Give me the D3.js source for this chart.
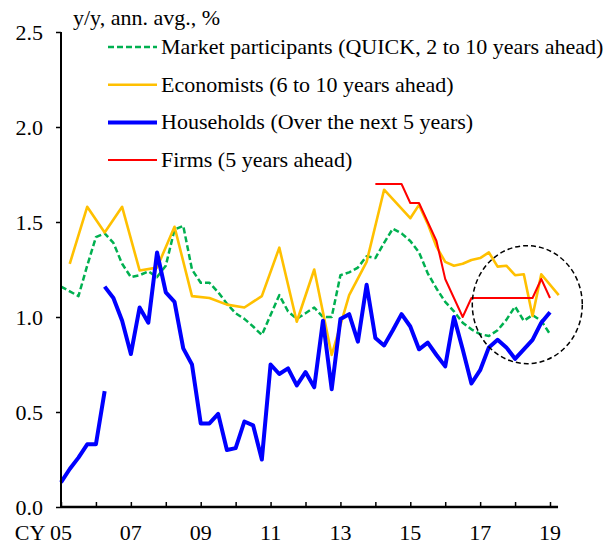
<!DOCTYPE html>
<html>
<head>
<meta charset="utf-8">
<script src="https://cdn.jsdelivr.net/npm/d3@7"></script>
<style>
  html, body { margin: 0; padding: 0; background: #fff; }
  svg { display: block; }
  svg text { font-family: "Liberation Serif", "Times New Roman", serif; }
</style>
</head>
<body>
<svg id="chart" width="613" height="545"></svg>
<script>
// ---------------- DATA ----------------
const yTicks = [0.0, 0.5, 1.0, 1.5, 2.0, 2.5];
const xTickYears = [2005, 2006, 2007, 2008, 2009, 2010, 2011, 2012, 2013, 2014, 2015, 2016, 2017, 2018, 2019];
const xLabelYears = [2005, 2007, 2009, 2011, 2013, 2015, 2017, 2019];
const xLabels = ["CY 05", "07", "09", "11", "13", "15", "17", "19"];
const yTitle = "y/y, ann. avg., %";

const legendNames = [
  "Market participants (QUICK, 2 to 10 years ahead)",
  "Economists (6 to 10 years ahead)",
  "Households (Over the next 5 years)",
  "Firms (5 years ahead)"
];

// Market participants (QUICK) - quarterly from 2005 Q1
const marketStart = 2005.0;
const marketValues = [
  1.16, 1.135, 1.11, 1.27,
  1.42, 1.44, 1.39, 1.28,
  1.21, 1.22, 1.24, 1.21,
  1.27, 1.46, 1.48, 1.25,
  1.18, 1.18, 1.13, 1.07,
  1.02, 0.99, 0.95, 0.905,
  1.01, 1.115, 1.03, 0.99,
  1.02, 1.05, 1.00, 1.00,
  1.22, 1.235, 1.26, 1.32,
  1.31, 1.39, 1.465, 1.44,
  1.40, 1.34, 1.23, 1.15,
  1.08, 1.03, 0.97, 0.935,
  0.91, 0.90, 0.93, 0.985,
  1.055, 0.98, 1.01, 0.98,
  0.91
];

// Economists - survey dates
const econDates = [
  2005.25, 2005.75, 2006.25, 2006.75, 2007.25, 2007.75, 2008.25, 2008.75,
  2009.25, 2009.75, 2010.25, 2010.75, 2011.25, 2011.75, 2012.25, 2012.75,
  2013.25, 2013.75, 2014.25, 2015.0, 2015.25, 2015.5, 2015.75, 2016.0,
  2016.25, 2016.5, 2016.75, 2017.0, 2017.25, 2017.5, 2017.75, 2018.0,
  2018.25, 2018.5, 2018.75, 2019.25
];
const econValues = [
  1.28, 1.58, 1.445, 1.58, 1.245, 1.26, 1.475, 1.11,
  1.10, 1.065, 1.05, 1.11, 1.365, 0.975, 1.25, 0.80,
  1.115, 1.29, 1.67, 1.52, 1.59, 1.49, 1.37, 1.29,
  1.27, 1.28, 1.30, 1.31, 1.34, 1.265, 1.27, 1.22,
  1.225, 1.005, 1.225, 1.115
];

// Households - old survey (quarterly from 2005 Q1)
const hhOldStart = 2005.0;
const hhOldValues = [0.13, 0.20, 0.26, 0.33, 0.33, 0.61];

// Households - new survey (quarterly from 2006 Q2)
const hhNewStart = 2006.25;
const hhNewValues = [
  1.16, 1.10, 0.98,
  0.805, 1.05, 0.97, 1.34,
  1.13, 1.08, 0.835, 0.75,
  0.44, 0.44, 0.49, 0.30,
  0.31, 0.45, 0.43, 0.25,
  0.75, 0.70, 0.73, 0.64,
  0.71, 0.63, 0.98, 0.62,
  0.99, 1.015, 0.87, 1.17,
  0.89, 0.85, 0.93, 1.015,
  0.95, 0.83, 0.865, 0.80,
  0.74, 1.00, 0.83, 0.65,
  0.72, 0.84, 0.88, 0.84,
  0.78, 0.83, 0.88, 0.97,
  1.025
];

// Firms - quarterly from 2014 Q1
const firmsStart = 2014.0;
const firmsValues = [
  1.7, 1.7, 1.7, 1.7,
  1.6, 1.6, 1.5, 1.4,
  1.2, 1.1, 1.0, 1.1,
  1.1, 1.1, 1.1, 1.1,
  1.1, 1.1, 1.1, 1.2,
  1.1
];

// Annotation ellipse (in data units for its centre)
const ellipseCenter = { year: 2018.35, value: 1.065 };

// ---------------- CHART ----------------
const FONT = "Liberation Serif";
const svg = d3.select("#chart");
const x = d3.scaleLinear().domain([2005, 2019]).range([61, 550]);
const y = d3.scaleLinear().domain([0, 2.5]).range([507, 32]);

const quarterly = (start, vals) => vals.map((v, i) => ({ t: start + i * 0.25, v }));
const paired = (dates, vals) => vals.map((v, i) => ({ t: dates[i], v }));

const line = d3.line().x(d => x(d.t)).y(d => y(d.v));

const colors = { market: "#00B050", econ: "#FFC000", hh: "#0000FF", firms: "#FF0000" };

const plot = svg.append("g");

plot.append("path").datum(quarterly(marketStart, marketValues))
  .attr("d", line).attr("fill", "none").attr("stroke", colors.market)
  .attr("stroke-width", 2.5).attr("stroke-dasharray", "6,3").attr("stroke-linejoin", "round");

plot.append("path").datum(paired(econDates, econValues))
  .attr("d", line).attr("fill", "none").attr("stroke", colors.econ)
  .attr("stroke-width", 2.6).attr("stroke-linejoin", "round");

[quarterly(hhOldStart, hhOldValues), quarterly(hhNewStart, hhNewValues)].forEach(seg => {
  plot.append("path").datum(seg)
    .attr("d", line).attr("fill", "none").attr("stroke", colors.hh)
    .attr("stroke-width", 4).attr("stroke-linejoin", "round");
});

plot.append("path").datum(quarterly(firmsStart, firmsValues))
  .attr("d", line).attr("fill", "none").attr("stroke", colors.firms)
  .attr("stroke-width", 2).attr("stroke-linejoin", "round");

// ellipse annotation
svg.append("ellipse")
  .attr("cx", x(ellipseCenter.year)).attr("cy", y(ellipseCenter.value))
  .attr("rx", 55).attr("ry", 59)
  .attr("fill", "none").attr("stroke", "#000").attr("stroke-width", 1.5)
  .attr("stroke-dasharray", "5,3");

// Y axis
const yAxis = svg.append("g").attr("transform", `translate(${x(2005)},0)`)
  .call(d3.axisLeft(y).tickValues(yTicks).tickFormat(d3.format(".1f")).tickSize(5).tickPadding(13));
yAxis.attr("font-family", FONT);
yAxis.select(".domain").attr("stroke", "#000").attr("stroke-width", 2)
  .attr("d", `M0,${y(2.5)}V${y(0)}`);
yAxis.selectAll(".tick line").attr("stroke", "#000").attr("stroke-width", 1.5);
yAxis.selectAll(".tick text").attr("font-size", 22).attr("fill", "#000")
  .attr("font-family", FONT);

// X axis
const xAxis = svg.append("g").attr("transform", `translate(0,${y(0)})`)
  .call(d3.axisBottom(x).tickValues(xTickYears).tickFormat("").tickSize(-5));
xAxis.select(".domain").attr("stroke", "#000").attr("stroke-width", 2.5)
  .attr("d", `M${x(2005)},0H${x(2019.23)}`);
xAxis.selectAll(".tick line").attr("stroke", "#000").attr("stroke-width", 1.5);

svg.append("g").selectAll("text").data(xLabelYears).join("text")
  .attr("x", (d, i) => i === 0 ? x(d) + 11 : x(d))
  .attr("y", 540)
  .attr("text-anchor", (d, i) => i === 0 ? "end" : "middle")
  .attr("font-family", FONT)
  .attr("font-size", 22).attr("fill", "#000")
  .text((d, i) => xLabels[i]);

// Title and legend
svg.append("text").attr("x", 73).attr("y", 25).attr("font-family", FONT)
  .attr("font-size", 22).attr("fill", "#000").text(yTitle);

const legendRows = [
  { name: legendNames[0], color: colors.market, w: 2.5, dash: "6,3" },
  { name: legendNames[1], color: colors.econ, w: 2.6, dash: null },
  { name: legendNames[2], color: colors.hh, w: 4, dash: null },
  { name: legendNames[3], color: colors.firms, w: 2, dash: null }
];
const lg = svg.append("g");
legendRows.forEach((r, i) => {
  const cy = 47 + i * 37.7;
  lg.append("line").attr("x1", 108).attr("x2", 157).attr("y1", cy).attr("y2", cy)
    .attr("stroke", r.color).attr("stroke-width", r.w).attr("stroke-dasharray", r.dash);
  lg.append("text").attr("x", 161).attr("y", cy + 7).attr("font-family", FONT)
    .attr("font-size", 22).attr("fill", "#000").text(r.name);
});
</script>
</body>
</html>
